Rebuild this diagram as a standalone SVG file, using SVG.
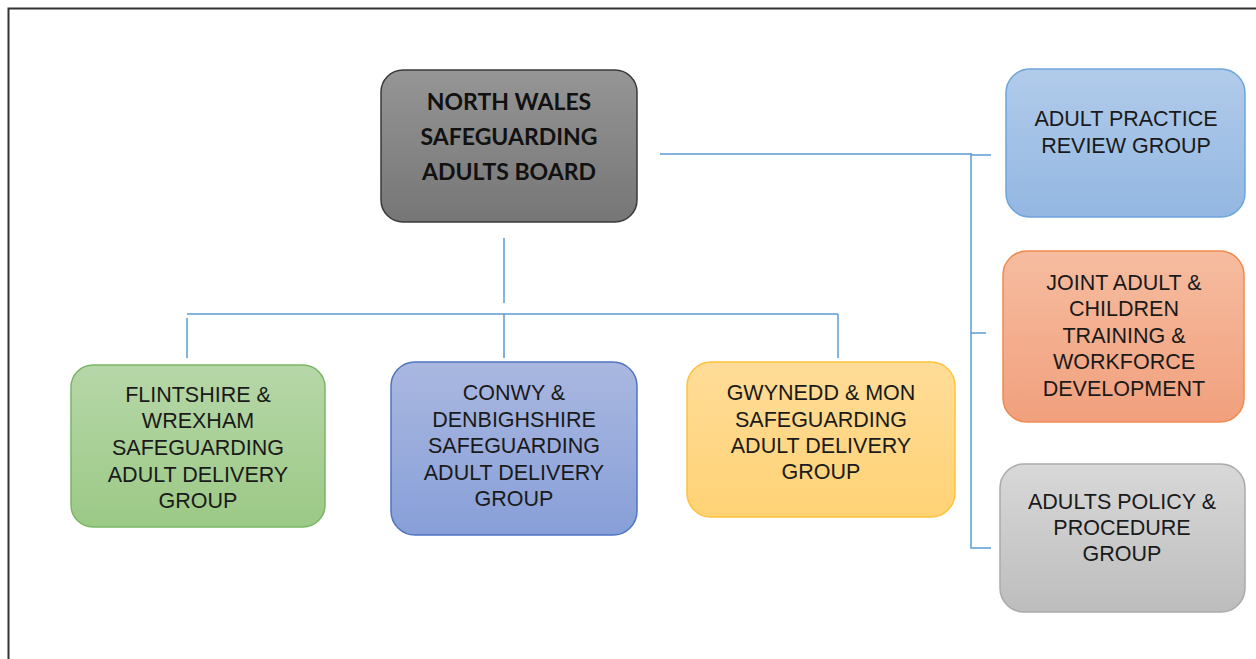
<svg xmlns="http://www.w3.org/2000/svg" width="1256" height="659" viewBox="0 0 1256 659">
<defs>
<linearGradient id="gBoard" x1="0" y1="0" x2="0" y2="1"><stop offset="0" stop-color="#959595"/><stop offset="1" stop-color="#767676"/></linearGradient>
<linearGradient id="gGreen" x1="0" y1="0" x2="0" y2="1"><stop offset="0" stop-color="#b6d7a8"/><stop offset="1" stop-color="#9cc986"/></linearGradient>
<linearGradient id="gBlue" x1="0" y1="0" x2="0" y2="1"><stop offset="0" stop-color="#aab8e0"/><stop offset="1" stop-color="#879fd8"/></linearGradient>
<linearGradient id="gYellow" x1="0" y1="0" x2="0" y2="1"><stop offset="0" stop-color="#ffdc98"/><stop offset="1" stop-color="#ffd275"/></linearGradient>
<linearGradient id="gLight" x1="0" y1="0" x2="0" y2="1"><stop offset="0" stop-color="#b1cbea"/><stop offset="1" stop-color="#93b7e2"/></linearGradient>
<linearGradient id="gOrange" x1="0" y1="0" x2="0" y2="1"><stop offset="0" stop-color="#f6bca0"/><stop offset="1" stop-color="#f1a07d"/></linearGradient>
<linearGradient id="gGray" x1="0" y1="0" x2="0" y2="1"><stop offset="0" stop-color="#d8d8d8"/><stop offset="1" stop-color="#bdbdbd"/></linearGradient>
</defs>
<style>
.lbl{font-family:"Liberation Sans",Arial,sans-serif;font-size:21.5px;fill:#1a1a1a;text-anchor:middle}
.bold{font-family:Lato,"Open Sans","Liberation Sans",sans-serif;font-weight:bold;font-size:23px;fill:#111;text-anchor:middle}
.conn{fill:none;stroke:#5b9bd5;stroke-width:1.5}
</style>
<rect width="1256" height="659" fill="#fff"/>
<path d="M8.5 670 V8.5 H1270" fill="none" stroke="#333" stroke-width="2"/>
<g id="connectors">
<path class="conn" d="M660 154 H971 M971 153 V548 H991 M971 155 H991 M971 333 H986"/>
<path class="conn" d="M504 238 V303 M187 314 H838 M187 318 V358 M504 314 V358 M838 314 V358"/>
</g>
<g id="board">
<rect x="381" y="70" width="256" height="152" rx="22" fill="url(#gBoard)" stroke="#3a3a3a" stroke-width="1.5"/>
<text class="bold" x="509" y="110">NORTH WALES</text>
<text class="bold" x="509" y="145">SAFEGUARDING</text>
<text class="bold" x="509" y="180">ADULTS BOARD</text>
</g>
<g id="flintshire">
<rect x="71" y="365" width="254" height="162" rx="22" fill="url(#gGreen)" stroke="#7ab567" stroke-width="1.5"/>
<text class="lbl" x="198" y="402">FLINTSHIRE &amp;</text>
<text class="lbl" x="198" y="428">WREXHAM</text>
<text class="lbl" x="198" y="455">SAFEGUARDING</text>
<text class="lbl" x="198" y="482">ADULT DELIVERY</text>
<text class="lbl" x="198" y="508">GROUP</text>
</g>
<g id="conwy">
<rect x="391" y="362" width="246" height="173" rx="24" fill="url(#gBlue)" stroke="#4f74c4" stroke-width="1.5"/>
<text class="lbl" x="514" y="400">CONWY &amp;</text>
<text class="lbl" x="514" y="427">DENBIGHSHIRE</text>
<text class="lbl" x="514" y="453">SAFEGUARDING</text>
<text class="lbl" x="514" y="480">ADULT DELIVERY</text>
<text class="lbl" x="514" y="506">GROUP</text>
</g>
<g id="gwynedd">
<rect x="687" y="362" width="268" height="155" rx="24" fill="url(#gYellow)" stroke="#ffc23a" stroke-width="1.5"/>
<text class="lbl" x="821" y="400">GWYNEDD &amp; MON</text>
<text class="lbl" x="821" y="427">SAFEGUARDING</text>
<text class="lbl" x="821" y="453">ADULT DELIVERY</text>
<text class="lbl" x="821" y="479">GROUP</text>
</g>
<g id="practice-review">
<rect x="1006" y="69" width="239" height="148" rx="24" fill="url(#gLight)" stroke="#6fa4db" stroke-width="1.5"/>
<text class="lbl" x="1126" y="126">ADULT PRACTICE</text>
<text class="lbl" x="1126" y="153">REVIEW GROUP</text>
</g>
<g id="training">
<rect x="1003" y="251" width="241" height="171" rx="24" fill="url(#gOrange)" stroke="#ef8a4f" stroke-width="1.5"/>
<text class="lbl" x="1124" y="290">JOINT ADULT &amp;</text>
<text class="lbl" x="1124" y="316">CHILDREN</text>
<text class="lbl" x="1124" y="343">TRAINING &amp;</text>
<text class="lbl" x="1124" y="369">WORKFORCE</text>
<text class="lbl" x="1124" y="396">DEVELOPMENT</text>
</g>
<g id="policy">
<rect x="1000" y="464" width="245" height="148" rx="24" fill="url(#gGray)" stroke="#aaaaaa" stroke-width="1.5"/>
<text class="lbl" x="1122" y="509">ADULTS POLICY &amp;</text>
<text class="lbl" x="1122" y="535">PROCEDURE</text>
<text class="lbl" x="1122" y="561">GROUP</text>
</g>
</svg>
